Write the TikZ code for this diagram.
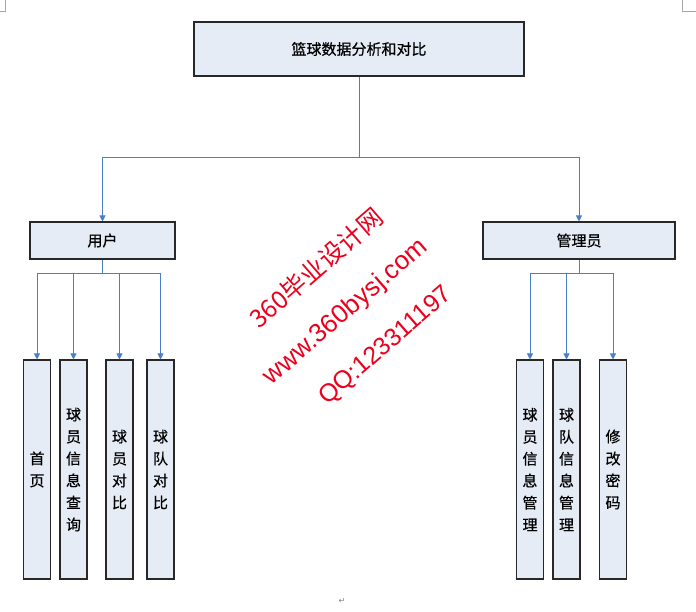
\documentclass[tikz,border=0pt]{standalone}
\usepackage{fontspec}
\newfontfamily\cjk[FakeBold=0.6]{Noto Sans CJK SC}
\newfontfamily\cjkwm{Noto Sans CJK SC}
\newfontfamily\wmfont{Liberation Sans}
\newfontfamily\symfont{DejaVu Sans}
\usetikzlibrary{arrows.meta}
\definecolor{boxfill}{RGB}{230,236,246}
\definecolor{boxline}{RGB}{40,40,40}
\definecolor{conn}{RGB}{74,126,198}
\definecolor{wm}{RGB}{236,0,28}
\tikzset{
  box/.style={draw=boxline, line width=1.1pt, fill=boxfill, inner sep=0pt, font=\cjk\fontsize{15}{22}\selectfont, align=center},
  vbox/.style={box, minimum width=27pt, minimum height=219pt},
  conn/.style={draw=conn, line width=1pt, -{Triangle[width=6pt,length=6pt]}},
  wmtext/.style={text=wm, rotate=41, inner sep=0pt},
  cornermark/.style={draw=gray!70, line width=0.8pt}
}
\begin{document}
\begin{tikzpicture}[x=1pt,y=-1pt]
\useasboundingbox (0,0) rectangle (696,611);
% page corner marks
\draw[cornermark] (0,11) -- (5,11) -- (5,0);
\draw[cornermark] (696,11) -- (682,11) -- (682,0);
% boxes
\node[box, minimum width=330pt, minimum height=54pt] (top) at (359,49) {篮球数据分析和对比};
\node[box, minimum width=145pt, minimum height=37pt] (user) at (102.5,240.5) {用户};
\node[box, minimum width=192pt, minimum height=37pt] (admin) at (579,240.5) {管理员};
\node[vbox] (u1) at (37,469.5) {首\\页};
\node[vbox] (u2) at (73.5,469.5) {球\\员\\信\\息\\查\\询};
\node[vbox] (u3) at (119.5,469.5) {球\\员\\对\\比};
\node[vbox] (u4) at (160.5,469.5) {球\\队\\对\\比};
\node[vbox] (a1) at (530,469.5) {球\\员\\信\\息\\管\\理};
\node[vbox] (a2) at (566.5,469.5) {球\\队\\信\\息\\管\\理};
\node[vbox] (a3) at (613,469.5) {修\\改\\密\\码};
% connectors
\draw[conn] (top.south) -- ++(0,81) -| (user.north);
\draw[conn] (top.south) -- ++(0,81) -| (admin.north);
\foreach \c in {u1,u2,u3,u4}{
  \draw[conn] (user.south) -- ++(0,14) -| (\c.north);
}
\foreach \c in {a1,a2,a3}{
  \draw[conn] (admin.south) -- ++(0,14) -| (\c.north);
}
% watermark
\node[wmtext, font=\cjkwm\fontsize{25}{25}\selectfont] (wm1) at (316,268) {\itshape 360毕业设计网};
\node[wmtext, font=\wmfont\fontsize{26}{26}\selectfont] (wm2) at (346,312) {www.360bysj.com};
\node[wmtext, font=\wmfont\fontsize{25}{25}\selectfont] (wm3) at (386,346) {QQ:123311197};
% paragraph mark
\node[text=gray, font=\symfont\fontsize{8}{8}\selectfont, inner sep=0pt] (pm) at (342,601) {↵};
\end{tikzpicture}
\end{document}
